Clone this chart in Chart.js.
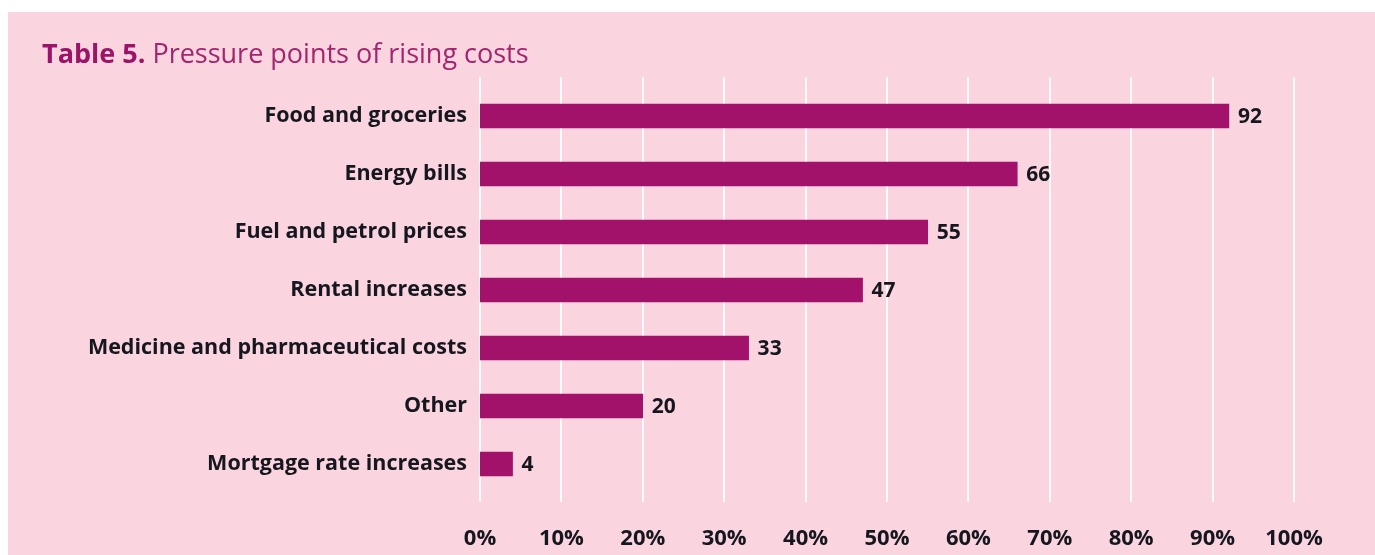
<!DOCTYPE html>
<html>
<head>
  <title>Pressure points of rising costs</title>
  <script src="https://cdn.jsdelivr.net/npm/chart.js"></script>
  <style>
    body {
      margin: 0;
      padding: 0;
      background: #ffffff;
      font-family: "Open Sans", sans-serif;
    }
    #panel {
      position: absolute;
      left: 8px;
      top: 12px;
      width: 1367px;
      height: 543px;
      background: #fad5df;
    }
    #title {
      position: absolute;
      left: 42px;
      top: 34px;
      font-size: 27px;
      color: #a3246f;
      white-space: nowrap;
      z-index: 2;
    }
    #title b {
      color: #9c136a;
    }
    #wrap {
      position: absolute;
      left: 0;
      top: 0;
      width: 1375px;
      height: 555px;
    }
  </style>
</head>
<body>
  <div id="panel"></div>
  <div id="title"><b>Table 5.</b> Pressure points of rising costs</div>
  <div id="wrap"><canvas id="chart" width="1375" height="555"></canvas></div>
  <script>
    const categories = [
      'Food and groceries',
      'Energy bills',
      'Fuel and petrol prices',
      'Rental increases',
      'Medicine and pharmaceutical costs',
      'Other',
      'Mortgage rate increases'
    ];
    const shares = [92, 66, 55, 47, 33, 20, 4];
    const xTicks = [0, 10, 20, 30, 40, 50, 60, 70, 80, 90, 100];

    const barColor = '#a3126a';
    const textColor = '#16161f';

    // white vertical grid lines, a little taller than the plot area
    const gridPlugin = {
      id: 'whiteGrid',
      beforeDatasetsDraw(chart) {
        const ctx = chart.ctx;
        const x = chart.scales.x;
        const area = chart.chartArea;
        ctx.save();
        ctx.strokeStyle = 'rgba(255,255,255,0.9)';
        ctx.lineWidth = 2;
        xTicks.forEach(t => {
          const px = Math.round(x.getPixelForValue(t));
          ctx.beginPath();
          ctx.moveTo(px, area.top - 10);
          ctx.lineTo(px, area.bottom + 9);
          ctx.stroke();
        });
        ctx.restore();
      }
    };

    // value labels at the end of each bar
    const valuePlugin = {
      id: 'values',
      afterDatasetsDraw(chart) {
        const ctx = chart.ctx;
        const meta = chart.getDatasetMeta(0);
        ctx.save();
        ctx.fillStyle = textColor;
        ctx.font = 'bold 21px "Open Sans"';
        ctx.textAlign = 'left';
        ctx.textBaseline = 'middle';
        meta.data.forEach((bar, i) => {
          ctx.fillText(String(shares[i]), bar.x + 9, bar.y + 1);
        });
        ctx.restore();
      }
    };

    new Chart(document.getElementById('chart').getContext('2d'), {
      type: 'bar',
      data: {
        labels: categories,
        datasets: [{
          data: shares,
          backgroundColor: barColor,
          borderWidth: 0,
          barThickness: 24
        }]
      },
      options: {
        indexAxis: 'y',
        responsive: false,
        animation: false,
        events: [],
        layout: {
          padding: { left: 0, right: 81, top: 87, bottom: 0 }
        },
        scales: {
          x: {
            min: 0,
            max: 100,
            afterBuildTicks(scale) {
              scale.ticks = xTicks.map(v => ({ value: v }));
            },
            afterFit(scale) {
              scale.height = 62;
            },
            grid: { display: false },
            border: { display: false },
            ticks: {
              padding: 25,
              color: textColor,
              font: { family: 'Open Sans', size: 22, weight: 'bold' },
              callback: v => v + '%'
            }
          },
          y: {
            afterFit(scale) {
              scale.width = 480;
            },
            grid: { display: false },
            border: { display: false },
            ticks: {
              padding: 5,
              color: textColor,
              font: { family: 'Open Sans', size: 21.5, weight: 'bold' }
            }
          }
        },
        plugins: {
          legend: { display: false },
          tooltip: { enabled: false }
        }
      },
      plugins: [gridPlugin, valuePlugin]
    });
  </script>
</body>
</html>
